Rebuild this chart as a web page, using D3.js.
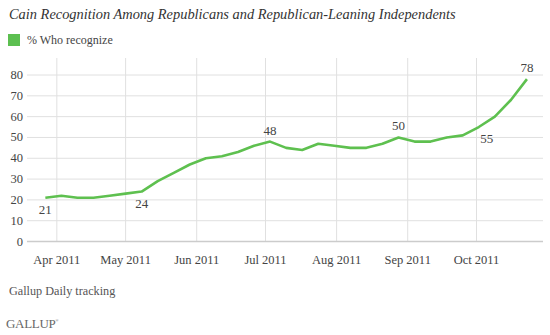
<!DOCTYPE html>
<html>
<head>
<meta charset="utf-8">
<script src="https://cdn.jsdelivr.net/npm/d3@7"></script>
<style>
  body { margin: 0; background: #fff; }
  text { font-family: "Liberation Serif", Georgia, serif; fill: #444; }
</style>
</head>
<body>
<div id="chart"></div>
<script>
// weekly readings, % who recognize Cain
var weeks = ["2011-03-27","2011-04-03","2011-04-10","2011-04-17","2011-04-24","2011-05-01",
  "2011-05-08","2011-05-15","2011-05-22","2011-05-29","2011-06-05","2011-06-12","2011-06-19",
  "2011-06-26","2011-07-03","2011-07-10","2011-07-17","2011-07-24","2011-07-31","2011-08-07",
  "2011-08-14","2011-08-21","2011-08-28","2011-09-04","2011-09-11","2011-09-18","2011-09-25",
  "2011-10-02","2011-10-09","2011-10-16","2011-10-23"];
var recognize = [21,22,21,21,22,23,24,29,33,37,40,41,43,46,48,45,44,47,46,45,45,47,50,48,48,50,51,55,60,68,78];
// which points get a value label, and whether it sits above or below
var labelIdx = [0, 6, 14, 22, 27, 30];
var labelPos = ["below","below","above","above","belowright","above"];
var yTicks = [0,10,20,30,40,50,60,70,80];

var width = 550, height = 335;
var parse = d3.timeParse("%Y-%m-%d");
var data = weeks.map(function(d, i) { return { date: parse(d), v: recognize[i] }; });

var svg = d3.select("#chart").append("svg")
    .attr("width", width)
    .attr("height", height);

var x = d3.scaleTime()
    .domain([parse("2011-03-19"), parse("2011-10-30")])
    .range([27, 543]);
var y = d3.scaleLinear()
    .domain([0, 80])
    .range([241.5, 75]);

// title + legend
svg.append("text")
    .attr("x", 9).attr("y", 19)
    .style("font-size", "14.4px")
    .style("font-style", "italic")
    .style("fill", "#333")
    .text("Cain Recognition Among Republicans and Republican-Leaning Independents");

svg.append("rect")
    .attr("x", 8).attr("y", 34).attr("width", 12).attr("height", 12)
    .attr("fill", "#5cbf50");
svg.append("text")
    .attr("x", 27).attr("y", 44)
    .style("font-size", "12px")
    .text("% Who recognize");

// grid
var months = d3.timeMonth.range(parse("2011-04-01"), parse("2011-10-02"));
svg.append("g").selectAll("line")
    .data(yTicks.slice(1))
    .enter().append("line")
    .attr("x1", 27).attr("x2", 543)
    .attr("y1", function(d) { return y(d); })
    .attr("y2", function(d) { return y(d); })
    .attr("stroke", "#e0e0e0");

svg.append("g").selectAll("line")
    .data(months)
    .enter().append("line")
    .attr("x1", function(d) { return x(d); })
    .attr("x2", function(d) { return x(d); })
    .attr("y1", 58).attr("y2", y(0))
    .attr("stroke", "#e0e0e0");

svg.append("line")
    .attr("x1", 27).attr("x2", 543)
    .attr("y1", y(0)).attr("y2", y(0))
    .attr("stroke", "#ccc")
    .attr("stroke-width", 1.5);

// axes labels
svg.append("g").selectAll("text")
    .data(yTicks)
    .enter().append("text")
    .attr("x", 23)
    .attr("y", function(d) { return y(d) + 4; })
    .attr("text-anchor", "end")
    .style("font-size", "12.5px")
    .text(function(d) { return d; });

svg.append("g").selectAll("text")
    .data(months)
    .enter().append("text")
    .attr("x", function(d) { return x(d); })
    .attr("y", 264)
    .attr("text-anchor", "middle")
    .style("font-size", "12.5px")
    .text(d3.timeFormat("%b %Y"));

// the line
var line = d3.line()
    .x(function(d) { return x(d.date); })
    .y(function(d) { return y(d.v); });

svg.append("path")
    .datum(data)
    .attr("d", line)
    .attr("fill", "none")
    .attr("stroke", "#5ec04f")
    .attr("stroke-width", 2.6)
    .attr("stroke-linejoin", "round");

// value labels
svg.append("g").selectAll("text")
    .data(labelIdx)
    .enter().append("text")
    .attr("x", function(d, i) {
      var px = x(data[d].date);
      return labelPos[i] == "belowright" ? px + 8 : px;
    })
    .attr("y", function(d, i) {
      var py = y(data[d].v);
      return labelPos[i] == "above" ? py - 7 : py + 16;
    })
    .attr("text-anchor", "middle")
    .style("font-size", "13px")
    .text(function(d) { return data[d].v; });

// footer
svg.append("text")
    .attr("x", 9).attr("y", 295)
    .style("font-size", "12.2px")
    .style("fill", "#555")
    .text("Gallup Daily tracking");

var logo = svg.append("text")
    .attr("x", 6).attr("y", 328)
    .style("font-size", "13px")
    .style("fill", "#666")
    .style("letter-spacing", "-0.3px");
logo.append("tspan").text("GALLUP");
logo.append("tspan")
    .attr("dy", -6)
    .style("font-size", "4px")
    .text("®");
</script>
</body>
</html>
